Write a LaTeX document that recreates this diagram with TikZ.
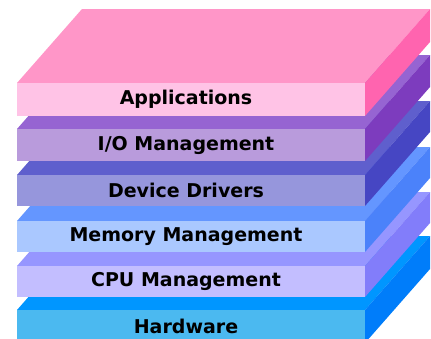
\documentclass[tikz,border=0pt]{standalone}
\usepackage{fontspec}
\setmainfont{DejaVu Sans}
\definecolor{appT}{HTML}{FF96C8}
\definecolor{appF}{HTML}{FFC3E6}
\definecolor{appS}{HTML}{FF64AF}
\definecolor{ioT}{HTML}{9664D2}
\definecolor{ioF}{HTML}{B99BDC}
\definecolor{ioS}{HTML}{7D3CBE}
\definecolor{ddT}{HTML}{5F5FCD}
\definecolor{ddF}{HTML}{9696DC}
\definecolor{ddS}{HTML}{4646C3}
\definecolor{memT}{HTML}{6496FF}
\definecolor{memF}{HTML}{AAC8FF}
\definecolor{memS}{HTML}{4B82FA}
\definecolor{cpuT}{HTML}{9696FF}
\definecolor{cpuF}{HTML}{C3BEFF}
\definecolor{cpuS}{HTML}{827DFA}
\definecolor{hwT}{HTML}{0096FF}
\definecolor{hwF}{HTML}{4BB9F0}
\definecolor{hwS}{HTML}{007DFA}
\newcommand\oslayer[7]{%
  \fill[#3] (17,#1) -- (365,#1) -- (430,#1-74) -- (82,#1-74) -- cycle;
  \fill[#5] (365,#1) -- (365,#2) -- (430,#2-74) -- (430,#1-74) -- cycle;
  \fill[#4] (17,#1) rectangle (365,#2);
  \node[lbl] (#6) at (186,{(#1+#2)/2}) {#7};
}
\tikzset{lbl/.style={text=black,inner sep=0pt,font=\bfseries\fontsize{19}{20}\selectfont}}
\begin{document}
\begin{tikzpicture}[x=1pt,y=-1pt]
\useasboundingbox (0,0) rectangle (431,338);
\fill[white] (0,0) rectangle (431,338);
\clip (0,0) rectangle (431,338);
\oslayer{310}{343}{hwT}{hwF}{hwS}{hw}{Hardware}
\oslayer{266}{297}{cpuT}{cpuF}{cpuS}{cpu}{CPU Management}
\oslayer{221}{252}{memT}{memF}{memS}{mem}{Memory Management}
\oslayer{175}{206}{ddT}{ddF}{ddS}{dd}{Device Drivers}
\oslayer{129}{161}{ioT}{ioF}{ioS}{io}{I/O Management}
\oslayer{83}{116}{appT}{appF}{appS}{app}{Applications}
\end{tikzpicture}
\end{document}
